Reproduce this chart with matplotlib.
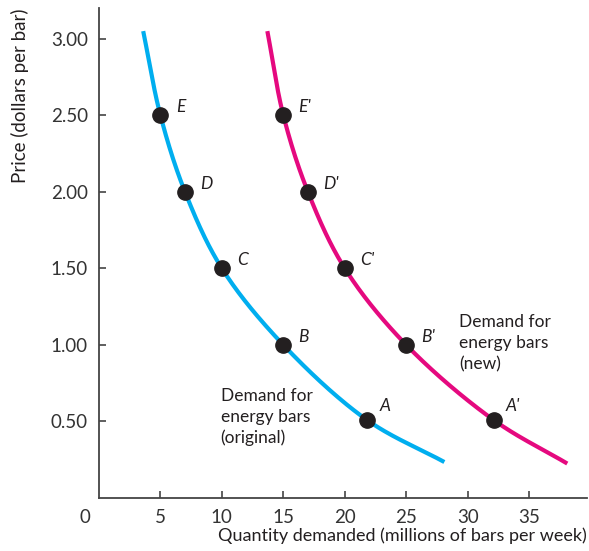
import numpy as np
import matplotlib
matplotlib.use("Agg")
import matplotlib.pyplot as plt

plt.rcParams['font.family'] = ['Lato', 'DejaVu Sans']

# points marked on each demand curve (quantity, price)
labels_orig = ["A", "B", "C", "D", "E"]
labels_new = ["A'", "B'", "C'", "D'", "E'"]
price = [0.51, 1.00, 1.50, 2.00, 2.50]
qty_orig = [21.8, 15, 10, 7, 5]
qty_new = [32.1, 25, 20, 17, 15]

# points, top to bottom
curve_orig_q = [3.6, 5, 7, 10, 15, 21.8, 28.1]
curve_orig_p = [3.05, 2.50, 2.00, 1.50, 1.00, 0.51, 0.235]
curve_new_q = [13.7, 15, 17, 20, 25, 32.1, 38.1]
curve_new_p = [3.05, 2.50, 2.00, 1.50, 1.00, 0.51, 0.225]

x_ticks = [5, 10, 15, 20, 25, 30, 35]
y_ticks = [0.50, 1.00, 1.50, 2.00, 2.50, 3.00]

blue = "#00AEEF"
pink = "#E5097F"
dark = "#231F20"


def smooth(xs, ys, n=40, yscale=12.4):
    # centripetal catmull-rom through the read points, just for drawing
    pts = np.column_stack([xs, np.asarray(ys) * yscale])
    pts = np.vstack([pts[0] * 2 - pts[1], pts, pts[-1] * 2 - pts[-2]])
    out = []
    for i in range(1, len(pts) - 2):
        p0, p1, p2, p3 = pts[i - 1], pts[i], pts[i + 1], pts[i + 2]
        t0 = 0.0
        t1 = t0 + np.linalg.norm(p1 - p0) ** 0.5
        t2 = t1 + np.linalg.norm(p2 - p1) ** 0.5
        t3 = t2 + np.linalg.norm(p3 - p2) ** 0.5
        t = np.linspace(t1, t2, n)[:, None]
        a1 = (t1 - t) / (t1 - t0) * p0 + (t - t0) / (t1 - t0) * p1
        a2 = (t2 - t) / (t2 - t1) * p1 + (t - t1) / (t2 - t1) * p2
        a3 = (t3 - t) / (t3 - t2) * p2 + (t - t2) / (t3 - t2) * p3
        b1 = (t2 - t) / (t2 - t0) * a1 + (t - t0) / (t2 - t0) * a2
        b2 = (t3 - t) / (t3 - t1) * a2 + (t - t1) / (t3 - t1) * a3
        out.append((t2 - t) / (t2 - t1) * b1 + (t - t1) / (t2 - t1) * b2)
    out = np.vstack(out)
    return out[:, 0], out[:, 1] / yscale


fig = plt.figure(figsize=(5.89, 5.51), dpi=100)
ax = fig.add_axes([0.168, 0.0962, 0.8285, 0.889])

for cq, cp, col in [(curve_orig_q, curve_orig_p, blue), (curve_new_q, curve_new_p, pink)]:
    sx, sy = smooth(cq, cp)
    ax.plot(sx, sy, color=col, lw=3, solid_capstyle='butt', zorder=2)

ax.plot(qty_orig, price, 'o', color=dark, ms=11, zorder=3)
ax.plot(qty_new, price, 'o', color=dark, ms=11, zorder=3)

for q, p, lab in zip(qty_orig + qty_new, price + price, labels_orig + labels_new):
    off = (9, 10) if p < 0.6 else (11, 6)
    ax.annotate(lab, (q, p), xytext=off, textcoords='offset points',
                fontsize=12.5, style='italic', color=dark, ha='left', va='center')

ax.text(9.9, 0.72, "Demand for\nenergy bars\n(original)", fontsize=12.5, color=dark,
        va='top', ha='left', linespacing=1.38)
ax.text(29.3, 1.20, "Demand for\nenergy bars\n(new)", fontsize=12.5, color=dark,
        va='top', ha='left', linespacing=1.38)

ax.set_xlim(0, 39.7)
ax.set_ylim(0, 3.2)
ax.set_xticks(x_ticks)
ax.set_yticks(y_ticks)
ax.set_yticklabels([f"{v:.2f}" for v in y_ticks])
ax.tick_params(direction='in', length=5, width=1.2, color='#444444',
               labelsize=13.5, labelcolor='#333333', pad=8)
for s in ['top', 'right']:
    ax.spines[s].set_visible(False)
for s in ['left', 'bottom']:
    ax.spines[s].set_color('#444444')
    ax.spines[s].set_linewidth(1.3)

ax.text(-1.1, -0.13, "0", fontsize=13.5, color='#333333', ha='center', va='center')

fig.text(0.997, 0.012, "Quantity demanded (millions of bars per week)", fontsize=13,
         color=dark, ha='right', va='bottom')
fig.text(0.018, 0.985, "Price (dollars per bar)", fontsize=13.5, color=dark,
         rotation=90, ha='left', va='top')

fig.savefig("out.png", dpi=100)
